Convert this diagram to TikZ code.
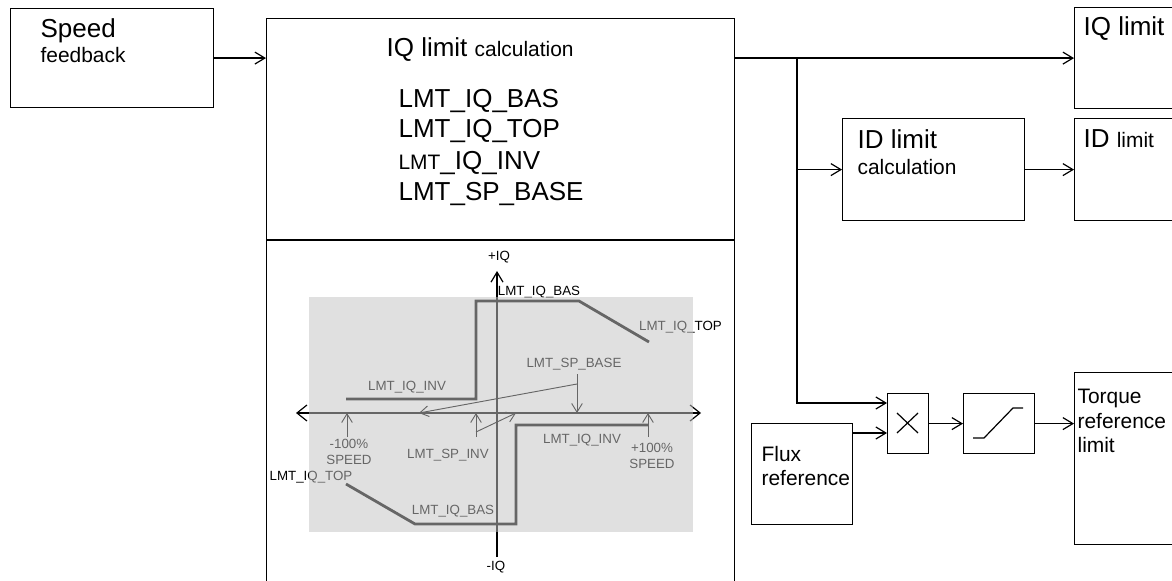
\documentclass[tikz,border=0pt]{standalone}
\usepackage{fontspec}
\setmainfont{Liberation Sans}
\usetikzlibrary{arrows.meta, positioning}

\newcommand{\fbig}{\fontsize{19.5}{23}\selectfont}
\newcommand{\fmid}{\fontsize{15.7}{18.4}\selectfont}
\newcommand{\fsmall}{\fontsize{10}{11.5}\selectfont}

\begin{document}
\begin{tikzpicture}[x=0.75pt, y=-0.75pt, ->, >={Straight Barb[length=7.5pt, width=9pt]}, line width=0.9pt]
	\tikzset{
		block/.style={draw, -, inner sep=0pt, anchor=north west},
		txt/.style={inner sep=0pt, anchor=west, align=left},
		lbl/.style={inner sep=0pt, font=\fsmall, align=center},
		curve/.style={-, line width=2.1pt, line join=miter},
		thinarrow/.style={line width=0.7pt, >={Straight Barb[length=6.5pt, width=8pt]}},
		veil/.style={fill=black!23, fill opacity=0.52, inner sep=0pt, anchor=north west}
	}
	\useasboundingbox (0, 0) rectangle (1172, 581);

	% boxes
	\node[block, minimum width=152.25pt, minimum height=74.25pt]	(speed)	at	(10, 8)	{};
	\node[block, minimum width=351pt, minimum height=450pt]	(calc)	at	(266, 18)	{};
	\node[block, minimum width=100pt, minimum height=75.75pt]	(iqlim)	at	(1074, 7)	{};
	\node[block, minimum width=136.5pt, minimum height=76.5pt]	(idcalc)	at	(842, 118)	{};
	\node[block, minimum width=100pt, minimum height=76.5pt]	(idlim)	at	(1074, 118)	{};
	\node[block, minimum width=30.75pt, minimum height=45pt]	(mult)	at	(887, 393)	{};
	\node[block, minimum width=53.25pt, minimum height=45pt]	(sat)	at	(963, 393)	{};
	\node[block, minimum width=100pt, minimum height=129pt]	(torque)	at	(1074, 372)	{};
	\node[block, minimum width=75.75pt, minimum height=75.75pt]	(flux)	at	(751, 423)	{};

	% box texts
	\node[txt]	(speedt)	at	(40, 31)	{\fbig Speed};
	\node[txt]	(speedb)	at	(40, 55)	{\fmid feedback};
	\node[txt]	(calct)	at	(386, 50)	{\fbig IQ limit \fmid calculation};
	\node[txt]	(bas)	at	(398, 101)	{\fbig LMT\_IQ\_BAS};
	\node[txt]	(top)	at	(398, 131)	{\fbig LMT\_IQ\_TOP};
	\node[txt]	(inv)	at	(398, 163)	{\fmid LMT\fbig\_IQ\_INV};
	\node[txt]	(base)	at	(398, 194)	{\fbig LMT\_SP\_BASE};
	\node[txt]	(iqt)	at	(1083, 29)	{\fbig IQ limit};
	\node[txt]	(idt)	at	(857, 139)	{\fbig ID limit};
	\node[txt]	(idb)	at	(857, 167)	{\fmid calculation};
	\node[txt]	(idl)	at	(1083, 139)	{\fbig ID \fmid limit};
	\node[txt, font=\fmid]	(torquet)	at	(1077, 421)	{Torque \\ reference \\ limit};
	\node[txt, font=\fmid]	(fluxt)	at	(761, 466)	{Flux \\ reference};

	\coordinate	(tap)	at	(797, 58);
	\coordinate	(multa)	at	(887, 403);
	\coordinate	(multb)	at	(887, 433);

	% signal lines
	\draw	(speed.east)	--	(calc.west |- speed.east);
	\draw	(calc.east |- iqlim.west)	--	(iqlim.west);
	\draw[-]	(calc.west |- 0, 240)	--	(calc.east |- 0, 240);
	\draw	(tap)	|-	(multa);
	\draw	(tap |- idcalc.west)	--	(idcalc.west);
	\draw	(idcalc.east)	--	(idlim.west);
	\draw	(flux.east |- multb)	--	(multb);
	\draw	(mult.east)	--	(sat.west);
	\draw	(sat.east)	--	(torque.west |- sat.east);

	% multiplier and limiter signs
	\draw[-]	(897, 413)	--	(918, 433);
	\draw[-]	(918, 413)	--	(897, 433);
	\draw[-]	(973, 438)	--	(984, 438)	--	(1013, 408)	--	(1023, 408);

	% graph
	\coordinate	(xm)	at	(296, 413);
	\coordinate	(xp)	at	(701, 413);
	\coordinate	(yp)	at	(497, 271);
	\coordinate	(ym)	at	(497, 557);
	\draw[<->, >={Straight Barb[length=7.5pt, width=12pt]}]	(xm)	--	(xp);
	\draw	(ym)	--	(yp);

	\draw[curve]	(346, 399)	--	(476, 399)	--	(476, 301)	--	(579, 301)	--	(649, 342);
	\draw[curve]	(346, 484)	--	(415, 524)	--	(516, 524)	--	(516, 425)	--	(648, 425);

	\draw[thinarrow]	(347, 437)	--	(347, 413);
	\draw[thinarrow]	(476, 437)	--	(476, 413);
	\draw[thinarrow]	(476, 432)	--	(516, 413);
	\draw[thinarrow]	(577, 374)	--	(577, 413);
	\draw[thinarrow]	(577, 384)	--	(419, 413);
	\draw[thinarrow]	(648, 437)	--	(648, 413);

	\node[lbl]	(plusiq)	at	(499, 257)	{+IQ};
	\node[lbl]	(minusiq)	at	(496, 567)	{-IQ};
	\node[lbl]	(basup)	at	(539, 292.5)	{LMT\_IQ\_BAS};
	\node[lbl]	(topup)	at	(680.5, 327)	{LMT\_IQ\_TOP};
	\node[lbl]	(spbase)	at	(574, 364)	{LMT\_SP\_BASE};
	\node[lbl]	(invup)	at	(407, 387)	{LMT\_IQ\_INV};
	\node[lbl]	(negspeed)	at	(349, 452)	{-100\% \\ SPEED};
	\node[lbl]	(spinv)	at	(448, 455)	{LMT\_SP\_INV};
	\node[lbl]	(invlow)	at	(582, 440)	{LMT\_IQ\_INV};
	\node[lbl]	(posspeed)	at	(652, 456)	{+100\% \\ SPEED};
	\node[lbl]	(toplow)	at	(311, 477)	{LMT\_IQ\_TOP};
	\node[lbl]	(baslow)	at	(453, 511)	{LMT\_IQ\_BAS};

	\node[veil, minimum width=288pt, minimum height=176.25pt]	(shade)	at	(308.5, 296.5)	{};
\end{tikzpicture}
\end{document}
